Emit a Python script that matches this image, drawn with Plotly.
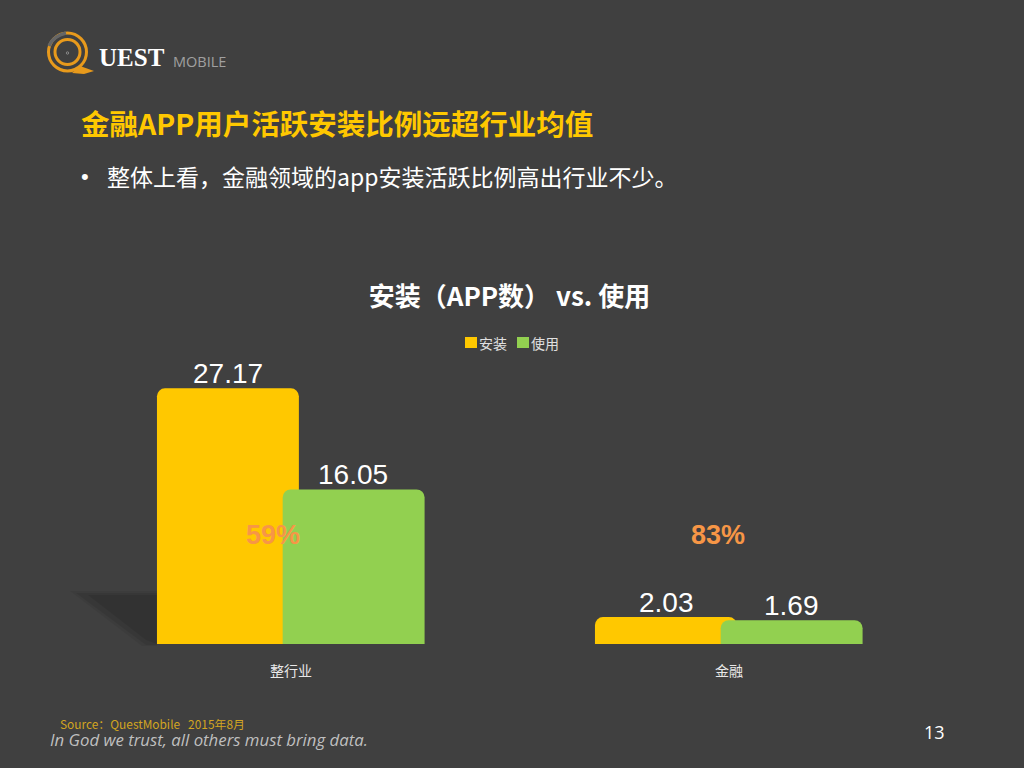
import plotly.graph_objects as go

categories = ["整行业", "金融"]
install_values = [27.17, 2.03]
usage_values = [16.05, 1.69]
ratio_labels = ["59%", "83%"]
series_names = ["安装", "使用"]

W, H = 1024, 768
L, R, T, B = 72, 948, 360, 644
AXIS_SHIFT = 0.93
AXIS_MAX = 31.21
BG = "#404040"
CJK = "Noto Sans CJK SC"


def fx(px):
    return (px - L) / (R - L)


def fy(py):
    return (B - py) / (B - T)


annotations = []
fig = go.Figure()
for name, vals, col, off, shift in [
    (series_names[0], install_values, "#FFC800", -0.306, -63),
    (series_names[1], usage_values, "#92D050", -0.019, 62),
]:
    heights = [v + AXIS_SHIFT for v in vals]
    fig.add_bar(
        x=categories, y=heights, name=name, width=0.324, offset=off,
        marker=dict(color=col, cornerradius=8, line=dict(width=0)),
        hoverinfo="skip", showlegend=False,
    )
    for c, v, h in zip(categories, vals, heights):
        annotations.append(dict(
            text=f"{v:.2f}", x=c, y=h, xref="x", yref="y", xshift=shift, yshift=15,
            yanchor="middle", showarrow=False,
            font=dict(family="Liberation Sans", size=28, color="#FFFFFF"),
        ))

shapes = []


def poly(points, fill):
    path = "M" + " L".join(f"{fx(x)},{fy(y)}" for x, y in points) + " Z"
    shapes.append(dict(type="path", xref="paper", yref="paper", path=path,
                       fillcolor=fill, line=dict(width=0), layer="below"))


# soft shadow to the left of the tall bar
for pts, c in [
    ([(70, 591), (157, 591), (157, 646), (142, 646)], "rgba(0,0,0,0.06)"),
    ([(76, 593), (157, 593), (157, 645), (146, 645)], "rgba(0,0,0,0.08)"),
    ([(88, 595), (157, 595), (157, 644), (146, 640)], "rgba(0,0,0,0.08)"),
]:
    poly(pts, c)


def ring(cx, cy, r, color, w):
    shapes.append(dict(type="circle", xref="paper", yref="paper",
                       x0=fx(cx - r), x1=fx(cx + r), y0=fy(cy + r), y1=fy(cy - r),
                       line=dict(color=color, width=w), fillcolor="rgba(0,0,0,0)"))


# logo
ORANGE = "#E89A1C"
ring(67.5, 52, 19, ORANGE, 3)
ring(67.5, 52, 12.5, ORANGE, 3)
ring(67.5, 53, 1.2, "#8A8A8A", 1)
poly([(80, 66), (94, 71), (84, 74), (72, 73)], ORANGE)
shapes.append(dict(type="path", xref="paper", yref="paper",
                   path=f"M{fx(49)},{fy(46)} Q{fx(53)},{fy(36)} {fx(66)},{fy(33)}",
                   line=dict(color="#666666", width=3.5)))

# legend keys
for x0, col in [(465, "#FFC800"), (517, "#92D050")]:
    shapes.append(dict(type="rect", xref="paper", yref="paper", x0=fx(x0), x1=fx(x0 + 12),
                       y0=fy(348), y1=fy(337), fillcolor=col, line=dict(width=0)))

notes = [
    dict(text="金融APP用户活跃安装比例远超行业均值", px=80, py=122, size=28.5, color="#FFC800",
         family=CJK, bold=True),
    dict(text="•", px=80, py=176, size=22, color="#FFFFFF", family="Liberation Sans"),
    dict(text="整体上看，金融领域的app安装活跃比例高出行业不少。", px=106, py=176, size=23,
         color="#FFFFFF", family=CJK),
    dict(text=series_names[0], px=478, py=343, size=14, color="#E0E0E0", family=CJK),
    dict(text=series_names[1], px=530, py=343, size=14, color="#E0E0E0", family=CJK),
    dict(text="UEST", px=98, py=58, size=25, color="#FFFFFF", family="Liberation Serif", bold=True),
    dict(text="MOBILE", px=172, py=61, size=14.5, color="#A0A0A0", family="Open Sans"),
    dict(text="Source：QuestMobile   2015年8月", px=59, py=723, size=11.9, color="#D2A520",
         family=CJK),
    dict(text="<i>In God we trust, all others must bring data.</i>", px=49, py=739, size=16.8,
         color="#BFBFBF", family="Open Sans"),
    dict(text="13", px=923, py=732, size=18, color="#FFFFFF", family="Open Sans"),
    dict(text=ratio_labels[0], px=245, py=535, size=27, color="#F79646", family="Liberation Sans",
         bold=True),
    dict(text=ratio_labels[1], px=690, py=535, size=27, color="#F79646", family="Liberation Sans",
         bold=True),
]
for n in notes:
    t = f"<b>{n['text']}</b>" if n.get("bold") else n["text"]
    annotations.append(dict(
        text=t, xref="paper", yref="paper", x=fx(n["px"]), y=fy(n["py"]),
        xanchor="left", yanchor="middle", showarrow=False, borderpad=0,
        font=dict(family=n["family"], size=n["size"], color=n["color"]),
    ))

fig.update_layout(
    width=W, height=H, autosize=False,
    margin=dict(l=L, r=W - R, t=T, b=H - B, pad=0),
    paper_bgcolor=BG, plot_bgcolor=BG,
    barmode="overlay", showlegend=False,
    title=dict(text="<b>安装（APP数） vs. 使用</b>", x=509.5 / W, xanchor="center",
               y=1 - 297 / H, yanchor="middle", xref="container", yref="container",
               font=dict(family=CJK, size=26, color="#FFFFFF")),
    xaxis=dict(range=[-0.5, 1.5], type="category", showgrid=False, zeroline=False, showline=False,
               ticks="outside", ticklen=14, tickcolor="rgba(0,0,0,0)",
               tickfont=dict(family=CJK, size=14, color="#E8E8E8")),
    yaxis=dict(range=[0, AXIS_MAX], visible=False),
    shapes=shapes, annotations=annotations,
)
fig.write_html("out.html", config=dict(displayModeBar=False),
               post_script="document.body.style.margin='0';document.body.style.background='#404040';")
